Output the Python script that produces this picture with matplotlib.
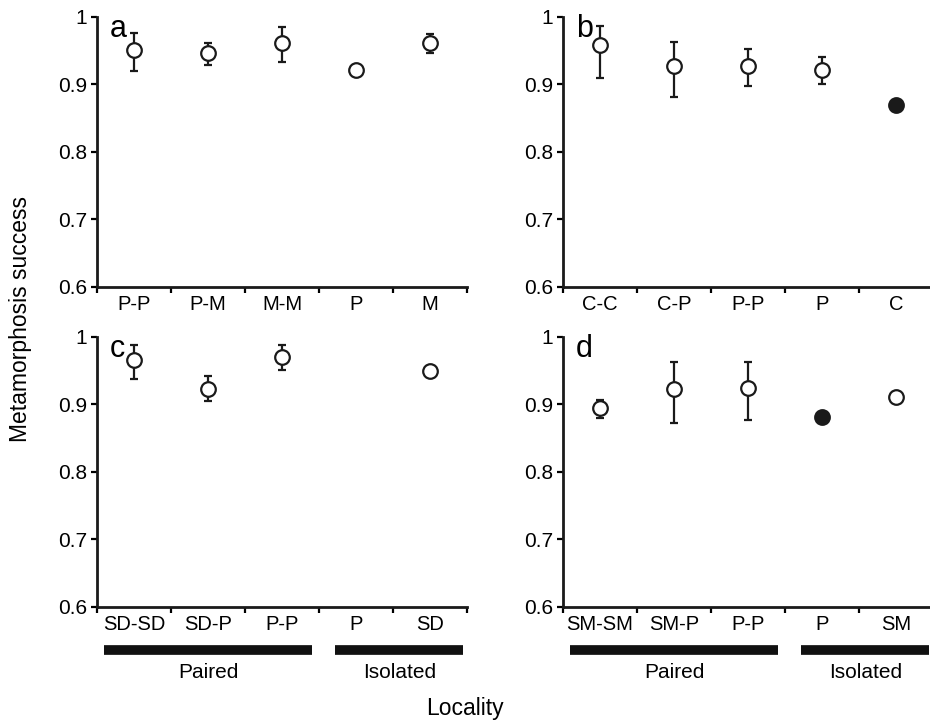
import numpy as np
import matplotlib
matplotlib.use("Agg")
import matplotlib.pyplot as plt
import matplotlib.transforms as mtransforms

plt.rcParams['font.family'] = ['Liberation Sans', 'DejaVu Sans']

# panel data: labels, means, upper / lower error ends (nan = no bar), filled marker flags
labels_a = ["P-P", "P-M", "M-M", "P", "M"]
mean_a = [0.951, 0.947, 0.962, 0.921, 0.962]
hi_a = [0.976, 0.961, 0.985, np.nan, 0.974]
lo_a = [0.920, 0.929, 0.933, np.nan, 0.946]
filled_a = [False, False, False, False, False]

labels_b = ["C-C", "C-P", "P-P", "P", "C"]
mean_b = [0.958, 0.928, 0.928, 0.922, 0.870]
hi_b = [0.986, 0.963, 0.953, 0.940, np.nan]
lo_b = [0.909, 0.881, 0.897, 0.901, np.nan]
filled_b = [False, False, False, False, True]

labels_c = ["SD-SD", "SD-P", "P-P", "P", "SD"]
mean_c = [0.966, 0.923, 0.970, np.nan, 0.949]
hi_c = [0.987, 0.941, 0.987, np.nan, np.nan]
lo_c = [0.937, 0.905, 0.950, np.nan, np.nan]
filled_c = [False, False, False, False, False]

labels_d = ["SM-SM", "SM-P", "P-P", "P", "SM"]
mean_d = [0.894, 0.922, 0.924, 0.881, 0.911]
hi_d = [0.906, 0.962, 0.962, np.nan, np.nan]
lo_d = [0.880, 0.872, 0.876, np.nan, np.nan]
filled_d = [False, False, False, True, False]

groups = ["Paired", "Isolated"]
group_span = [(0.1, 2.9), (3.22, 4.95)]

panels = [
    ("a", labels_a, mean_a, hi_a, lo_a, filled_a, [0.1043, 0.6047, 0.398, 0.372]),
    ("b", labels_b, mean_b, hi_b, lo_b, filled_b, [0.6054, 0.6047, 0.398, 0.372]),
    ("c", labels_c, mean_c, hi_c, lo_c, filled_c, [0.1043, 0.1643, 0.398, 0.372]),
    ("d", labels_d, mean_d, hi_d, lo_d, filled_d, [0.6054, 0.1643, 0.398, 0.372]),
]

fig = plt.figure(figsize=(9.3, 7.26), dpi=100)

for letter, labels, mean, hi, lo, filled, rect in panels:
    ax = fig.add_axes(rect)
    x = np.arange(len(labels)) + 0.5
    mean = np.array(mean, dtype=float)
    hi = np.array(hi, dtype=float)
    lo = np.array(lo, dtype=float)

    has_err = ~np.isnan(hi)
    yerr = np.vstack([mean[has_err] - lo[has_err], hi[has_err] - mean[has_err]])
    ax.errorbar(x[has_err], mean[has_err], yerr=yerr, fmt='none',
                ecolor='#1a1a1a', elinewidth=1.6, capsize=3, capthick=1.6, zorder=2)
    for xi, m, f in zip(x, mean, filled):
        if np.isnan(m):
            continue
        ax.plot(xi, m, 'o', ms=10.5, mfc='#1a1a1a' if f else 'white',
                mec='#1a1a1a', mew=1.6, zorder=3)

    ax.set_xlim(0, 5)
    ax.set_ylim(0.6, 1.0)
    ax.set_yticks([0.6, 0.7, 0.8, 0.9, 1.0])
    ax.set_yticklabels(["0.6", "0.7", "0.8", "0.9", "1"])
    ax.set_xticks(np.arange(6))
    ax.set_xticklabels([])
    ax.set_xticks(x, minor=True)
    ax.set_xticklabels(labels, minor=True)
    ax.tick_params(axis='x', which='minor', length=0, labelsize=14.5, pad=6)
    ax.tick_params(axis='x', which='major', direction='out', length=4, width=1.6)
    ax.tick_params(axis='y', direction='out', length=4, width=1.6, labelsize=15, pad=3)
    for side in ['top', 'right']:
        ax.spines[side].set_visible(False)
    for side in ['left', 'bottom']:
        ax.spines[side].set_linewidth(2)
        ax.spines[side].set_color('#1a1a1a')

    ax.text(0.035, 1.01, letter, transform=ax.transAxes, fontsize=22,
            va='top', ha='left')

    if letter in ("c", "d"):
        trans = mtransforms.blended_transform_factory(ax.transData, ax.transAxes)
        for name, (x0, x1) in zip(groups, group_span):
            ax.plot([x0, x1], [-0.16, -0.16], color='#111111', lw=7,
                    solid_capstyle='butt', transform=trans, clip_on=False)
            ax.text((x0 + x1) / 2, -0.245, name, transform=trans, fontsize=15,
                    ha='center', va='center')

fig.text(0.022, 0.56, "Metamorphosis success", rotation=90, fontsize=16.5,
         ha='center', va='center')
fig.text(0.5, 0.024, "Locality", fontsize=16.5, ha='center', va='center')

plt.savefig("out.png", dpi=100)
plt.close()
